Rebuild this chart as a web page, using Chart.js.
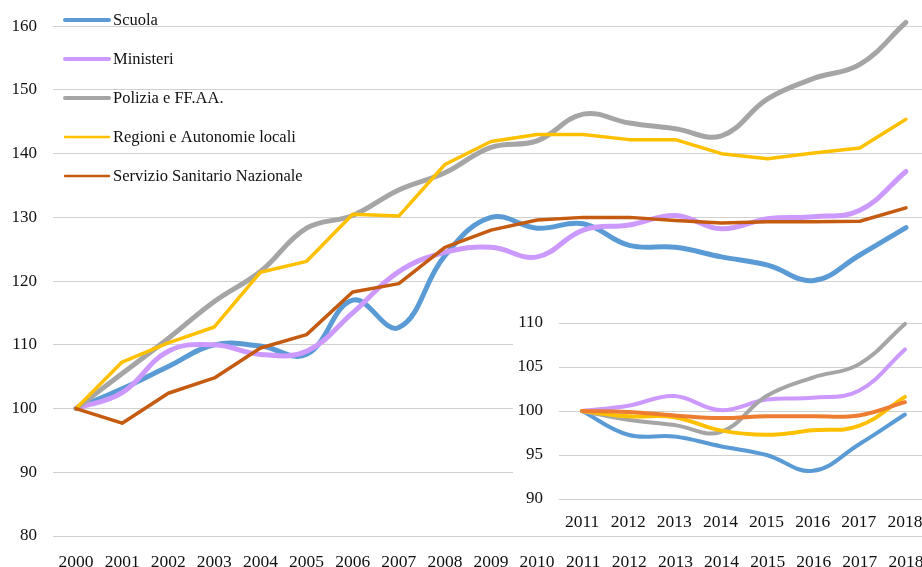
<!DOCTYPE html>
<html>
<head>
<meta charset="utf-8">
<script src="https://cdn.jsdelivr.net/npm/chart.js@4/dist/chart.umd.min.js"></script>
<style>
    html, body { margin: 0; padding: 0; background: #fff; overflow: hidden; }
    #wrap { position: relative; width: 922px; height: 567px; overflow: hidden; }
    #main { position: absolute; left: 0; top: 0; }
    #inset { position: absolute; left: 513px; top: 290px; background: #fff; }
</style>
</head>
<body>
<div id="wrap">
    <canvas id="main" width="932" height="567"></canvas>
    <canvas id="inset" width="415" height="245"></canvas>
</div>
<script>
// main chart, index 2000 = 100
var YEARS = ['2000', '2001', '2002', '2003', '2004', '2005', '2006', '2007', '2008', '2009',
    '2010', '2011', '2012', '2013', '2014', '2015', '2016', '2017', '2018'];
var SCUOLA = [100, 103.1, 106.6, 110, 109.8, 108.5, 117, 112.7, 124, 130, 128.3, 129, 125.6, 125.3, 123.8, 122.5, 120.1, 124.1, 128.4];
var MINISTERI = [100, 102.5, 109, 110, 108.5, 109, 115, 121.5, 124.5, 125.3, 123.8, 128, 128.8, 130.3, 128.2, 129.8, 130.1, 131.1, 137.2];
var POLIZIA = [100, 105.5, 111, 116.8, 121.5, 128.3, 130.3, 134.3, 137, 141, 142, 146.2, 144.8, 143.9, 142.8, 148.6, 151.8, 154, 160.6];
var REGIONI = [100, 107.3, 110.3, 112.8, 121.4, 123.1, 130.5, 130.2, 138.3, 141.9, 143, 143, 142.2, 142.2, 140, 139.2, 140.1, 140.9, 145.4];
var SSN = [100, 97.7, 102.4, 104.8, 109.5, 111.6, 118.3, 119.6, 125.3, 128, 129.6, 130, 130, 129.5, 129.1, 129.3, 129.3, 129.4, 131.5];

// inset, index 2011 = 100
var YEARS_IN = ['2011', '2012', '2013', '2014', '2015', '2016', '2017', '2018'];
var SCUOLA_IN = [100, 97.3, 97.1, 96, 95, 93.2, 96.2, 99.6];
var MINISTERI_IN = [100, 100.6, 101.7, 100.1, 101.3, 101.5, 102.3, 107];
var POLIZIA_IN = [100, 99, 98.4, 97.6, 101.7, 103.8, 105.3, 109.9];
var REGIONI_IN = [100, 99.4, 99.3, 97.8, 97.3, 97.8, 98.3, 101.6];
var SSN_IN = [100, 99.9, 99.5, 99.2, 99.4, 99.4, 99.5, 101];

var LABELS = ['Scuola', 'Ministeri', 'Polizia e FF.AA.', 'Regioni e Autonomie locali', 'Servizio Sanitario Nazionale'];

var FONT = '"Liberation Serif", "Times New Roman", serif';
var GRID = '#d0d0d0';

var legendPlugin = {
    id: 'topLegend',
    afterDraw: function (chart) {
        var ctx = chart.ctx;
        ctx.save();
        ctx.font = '16.5px ' + FONT;
        ctx.textBaseline = 'middle';
        ctx.lineCap = 'round';
        chart.data.datasets.forEach(function (ds, i) {
            var y = 20 + i * 39;
            ctx.strokeStyle = ds.borderColor;
            ctx.lineWidth = ds.borderWidth - 1;
            ctx.beginPath();
            ctx.moveTo(65, y);
            ctx.lineTo(109, y);
            ctx.stroke();
            ctx.fillStyle = '#111';
            ctx.fillText(ds.label, 113, y + 1);
        });
        ctx.restore();
    }
};

function line(label, data, color, width, tension, order) {
    return { label: label, data: data, borderColor: color, backgroundColor: color, borderWidth: width,
        tension: tension, pointRadius: 0, fill: false, order: order, clip: false,
        borderCapStyle: 'round', borderJoinStyle: 'round' };
}

new Chart(document.getElementById('main'), {
    type: 'line',
    data: {
        labels: YEARS,
        datasets: [
            line(LABELS[0], SCUOLA, '#5b9bd5', 5, 0.4, 5),
            line(LABELS[1], MINISTERI, '#cc99ff', 5, 0.4, 4),
            line(LABELS[2], POLIZIA, '#a5a5a5', 5, 0.4, 3),
            line(LABELS[3], REGIONI, '#ffc000', 3.5, 0, 2),
            line(LABELS[4], SSN, '#c55a11', 3.5, 0, 1)
        ]
    },
    options: {
        responsive: false,
        animation: false,
        layout: { padding: { top: 24, right: 3, left: 0, bottom: 0 } },
        plugins: { legend: { display: false }, tooltip: { enabled: false } },
        scales: {
            x: {
                offset: true,
                grid: { display: false },
                border: { display: false },
                ticks: { color: '#111', padding: 8, maxRotation: 0, autoSkip: false, font: { size: 17.5, family: FONT } },
                afterFit: function (s) { s.height = 31; }
            },
            y: {
                min: 80, max: 160,
                ticks: { stepSize: 10, color: '#111', padding: 16, font: { size: 17, family: FONT } },
                grid: { color: GRID, lineWidth: 1, drawTicks: false },
                border: { display: false },
                afterFit: function (s) { s.width = 53; }
            }
        }
    },
    plugins: [legendPlugin]
});

new Chart(document.getElementById('inset'), {
    type: 'line',
    data: {
        labels: YEARS_IN,
        datasets: [
            line(LABELS[0], SCUOLA_IN, '#5b9bd5', 4, 0.4, 5),
            line(LABELS[1], MINISTERI_IN, '#cc99ff', 4, 0.4, 4),
            line(LABELS[2], POLIZIA_IN, '#a5a5a5', 4, 0.4, 3),
            line(LABELS[3], REGIONI_IN, '#ffc000', 4, 0.4, 2),
            line(LABELS[4], SSN_IN, '#ed7d31', 4, 0.4, 1)
        ]
    },
    options: {
        responsive: false,
        animation: false,
        layout: { padding: { top: 33, right: 0, left: 0, bottom: 0 } },
        plugins: { legend: { display: false }, tooltip: { enabled: false } },
        scales: {
            x: {
                offset: true,
                grid: { display: false },
                border: { display: false },
                ticks: { color: '#111', padding: 5, maxRotation: 0, autoSkip: false, font: { size: 17.5, family: FONT } },
                afterFit: function (s) { s.height = 36; }
            },
            y: {
                min: 90, max: 110,
                ticks: { stepSize: 5, color: '#111', padding: 16, font: { size: 17, family: FONT } },
                grid: { color: GRID, lineWidth: 1, drawTicks: false },
                border: { display: false },
                afterFit: function (s) { s.width = 46; }
            }
        }
    }
});
</script>
</body>
</html>
